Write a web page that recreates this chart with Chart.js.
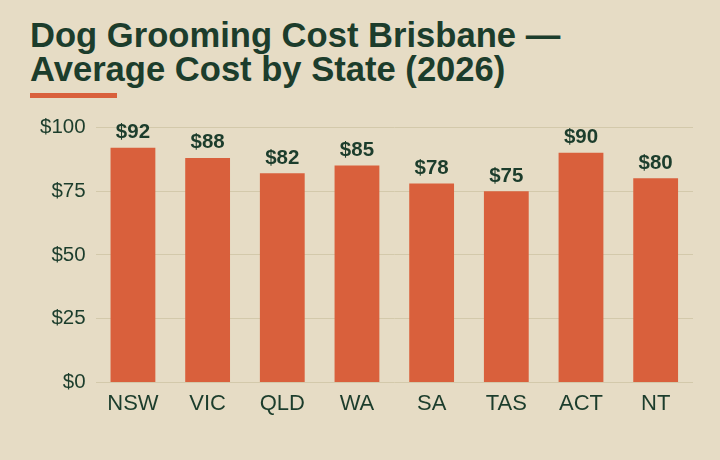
<!DOCTYPE html>
<html>
<head>
<meta charset="utf-8">
<script src="https://cdn.jsdelivr.net/npm/chart.js@4"></script>
<style>
  html, body { margin: 0; padding: 0; background: #e6dcc5; width: 720px; height: 460px; overflow: hidden; }
  #title {
    position: absolute; left: 30px; top: 18px;
    font-family: "Liberation Sans", Arial, sans-serif; font-weight: bold;
    font-size: 34.6px; line-height: 34px; color: #1c3d2c;
  }
  #rule { position: absolute; left: 30px; top: 93px; width: 87px; height: 5px; background: #d9603c; }
  #wrap { position: absolute; left: 0; top: 105px; width: 720px; height: 320px; }
</style>
</head>
<body>
<div id="title">Dog Grooming Cost Brisbane —<br>Average Cost by State (2026)</div>
<div id="rule"></div>
<div id="wrap"><canvas id="costChart"></canvas></div>
<script>
const states = ['NSW', 'VIC', 'QLD', 'WA', 'SA', 'TAS', 'ACT', 'NT'];
const avgCost = [92, 88, 82, 85, 78, 75, 90, 80];

const barLabels = {
  id: 'barLabels',
  afterDatasetsDraw(chart) {
    const ctx = chart.ctx;
    const meta = chart.getDatasetMeta(0);
    ctx.save();
    ctx.font = 'bold 20.5px "Liberation Sans", Arial, sans-serif';
    ctx.fillStyle = '#1c3d2c';
    ctx.textAlign = 'center';
    ctx.textBaseline = 'bottom';
    meta.data.forEach((bar, i) => {
      ctx.fillText('$' + avgCost[i], bar.x, bar.y - 5);
    });
    ctx.restore();
  }
};

new Chart(document.getElementById('costChart'), {
  type: 'bar',
  data: {
    labels: states,
    datasets: [{
      data: avgCost,
      backgroundColor: '#d9603c',
      categoryPercentage: 1,
      barPercentage: 0.6
    }]
  },
  options: {
    responsive: true,
    maintainAspectRatio: false,
    animation: false,
    layout: { padding: { left: 30, right: 27, top: 6, bottom: 0 } },
    plugins: { legend: { display: false }, tooltip: { enabled: false } },
    scales: {
      y: {
        min: 0, max: 100,
        ticks: {
          stepSize: 25, padding: 10, color: '#1c3d2c',
          font: { family: '"Liberation Sans", Arial, sans-serif', size: 20.5 },
          callback: v => '$' + v
        },
        grid: { color: '#d3c9ab', drawTicks: false },
        border: { display: false }
      },
      x: {
        ticks: {
          color: '#1c3d2c', padding: 8,
          font: { family: '"Liberation Sans", Arial, sans-serif', size: 22 }
        },
        grid: { display: false, drawTicks: false },
        border: { display: false }
      }
    }
  },
  plugins: [barLabels]
});
</script>
</body>
</html>
